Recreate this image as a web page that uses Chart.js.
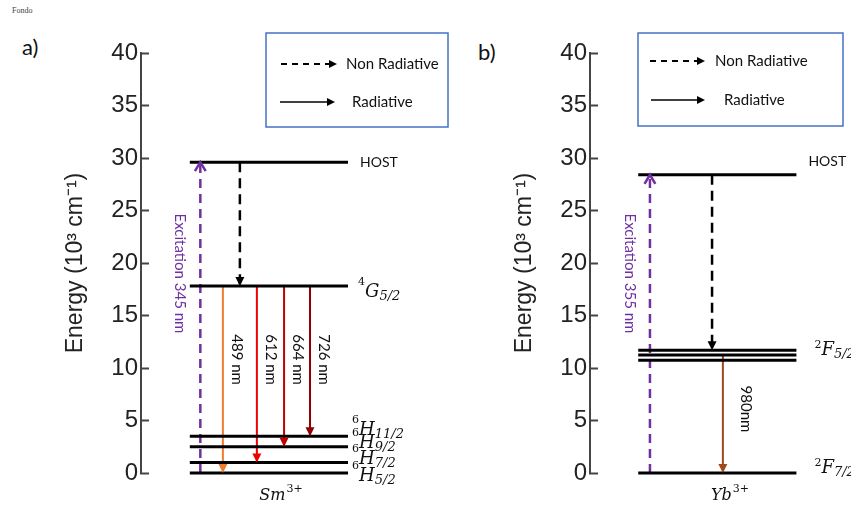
<!DOCTYPE html>
<html>
<head>
<meta charset="utf-8">
<script src="https://cdn.jsdelivr.net/npm/chart.js@4.4.1/dist/chart.umd.min.js"></script>
<style>
  body { margin: 0; width: 851px; height: 506px; overflow: hidden; background: #fff; position: relative; }
  #fondo { position: absolute; left: 12px; top: 6px; font: 8px "Liberation Serif", serif; color: #444; }
  .tag { position: absolute; font: 22px Lato, sans-serif; line-height: 22px; color: #111; }
  .panel { position: absolute; top: 0; width: 450px; height: 506px; }
</style>
</head>
<body>
<div id="fondo">Fondo</div>
<div class="tag" style="left:22px; top:36px">a)</div>
<div class="tag" style="left:478px; top:41px">b)</div>
<div class="panel" style="left:0"><canvas id="smChart" width="450" height="506"></canvas></div>
<div class="panel" style="left:449px"><canvas id="ybChart" width="450" height="506"></canvas></div>
<script>
// energy levels in 10^3 cm^-1
const smLevelEnergy = [29.6, 17.8, 3.5, 2.5, 1.0, 0];
const smLevelName = [['', 'HOST', ''], ['4', 'G', '5/2'], ['6', 'H', '11/2'], ['6', 'H', '9/2'], ['6', 'H', '7/2'], ['6', 'H', '5/2']];
const smExcitationNm = 345;
const smEmissionNm = [489, 612, 664, 726];
const smEmissionTo = [0, 1.0, 2.5, 3.5];

const ybLevelEnergy = [28.4, 11.7, 11.25, 10.75, 0];
const ybLevelName = [['', 'HOST', ''], ['2', 'F', '5/2'], null, null, ['2', 'F', '7/2']];
const ybExcitationNm = 355;
const ybEmissionNm = [980];
const ybEmissionTo = [0];

const energyTicks = [0, 5, 10, 15, 20, 25, 30, 35, 40];

// horizontal placement is in x-axis units (0..10), the x axis itself is hidden
const smPanel = {
  id: 'smChart', ion: ['Sm', '3+'],
  energy: smLevelEnergy, names: smLevelName, excitationNm: smExcitationNm,
  emissionNm: smEmissionNm, emissionTo: smEmissionTo, transferTo: 1, emitFrom: 1,
  levelX: [1.58, 6.7], excitationX: 1.92, transferX: 3.2,
  emissionX: [2.65, 3.75, 4.63, 5.47],
  emissionColor: ['#ed7d31', '#f00000', '#c00000', '#900000'],
  nmSep: ' ', nmLabelDx: 14, nmLabelAt: 10.8, excLabelAt: 19,
  nameGap: [12, 10, 4, 4, 4, 4], nameShift: [0, 5, -7, -5, -5, 2], supRaise: 12,
  ionX: 4.53,
  legend: { box: [266, 33, 182, 94], dashed: [281, 337, 64], solid: [280, 335, 102], textX: [346, 352] }
};

const ybPanel = {
  id: 'ybChart', ion: ['Yb', '3+'],
  energy: ybLevelEnergy, names: ybLevelName, excitationNm: ybExcitationNm,
  emissionNm: ybEmissionNm, emissionTo: ybEmissionTo, transferTo: 1, emitFrom: 2,
  levelX: [1.56, 6.68], excitationX: 1.94, transferX: 3.95,
  emissionX: [4.3],
  emissionColor: ['#9e4a1c'],
  nmSep: '', nmLabelDx: 23, nmLabelAt: 6.1, excLabelAt: 19,
  nameGap: [12, 18, 0, 0, 18], nameShift: [-13, -1, 0, 0, -6], supRaise: 7,
  ionX: 4.53,
  legend: { box: [189, 33, 205, 93], dashed: [201, 256, 61], solid: [202, 256, 100], textX: [266, 275] }
};

const termFont = '"DejaVu Serif", serif';

function line(pts, color, width, dash, head) {
  return {
    data: pts, showLine: true, borderColor: color, borderWidth: width,
    borderDash: dash || [], pointRadius: 0, fill: false, clip: false, head: head
  };
}

function buildDatasets(p) {
  const ds = [];
  const top = p.energy[0];
  const ground = p.energy[p.energy.length - 1];
  p.energy.forEach(e => {
    ds.push(line([{ x: p.levelX[0], y: e }, { x: p.levelX[1], y: e }], '#000', 3));
  });
  // excitation from the ground level up to the host
  ds.push(line([{ x: p.excitationX, y: ground }, { x: p.excitationX, y: top }], '#7030a0', 2.5, [9, 6], 'open'));
  // non radiative transfer host -> emitting level
  ds.push(line([{ x: p.transferX, y: top }, { x: p.transferX, y: p.energy[p.transferTo] }], '#000', 2.5, [10, 6], 'fill'));
  // radiative emissions
  p.emissionNm.forEach((nm, i) => {
    ds.push(line([{ x: p.emissionX[i], y: p.energy[p.emitFrom] }, { x: p.emissionX[i], y: p.emissionTo[i] }],
      p.emissionColor[i], 2, null, 'fill'));
  });
  return ds;
}

function drawHead(ctx, from, to, style, color, size) {
  const ang = Math.atan2(to.y - from.y, to.x - from.x);
  ctx.save();
  ctx.translate(to.x, to.y);
  ctx.rotate(ang);
  ctx.beginPath();
  if (style === 'open') {
    ctx.moveTo(-size, -size * 0.6);
    ctx.lineTo(0, 0);
    ctx.lineTo(-size, size * 0.6);
    ctx.strokeStyle = color;
    ctx.lineWidth = 2.5;
    ctx.stroke();
  } else {
    ctx.moveTo(0, 0);
    ctx.lineTo(-size, -size * 0.5);
    ctx.lineTo(-size, size * 0.5);
    ctx.closePath();
    ctx.fillStyle = color;
    ctx.fill();
  }
  ctx.restore();
}

const arrowHeads = {
  id: 'arrowHeads',
  afterDatasetsDraw(chart) {
    chart.data.datasets.forEach((d, i) => {
      if (!d.head) return;
      const pts = chart.getDatasetMeta(i).data;
      drawHead(chart.ctx, pts[0], pts[1], d.head, d.borderColor, 9);
    });
  }
};

function drawRotated(ctx, text, x, y, font, color) {
  ctx.save();
  ctx.translate(x, y);
  ctx.rotate(Math.PI / 2);
  ctx.font = font;
  ctx.fillStyle = color;
  ctx.textAlign = 'center';
  ctx.textBaseline = 'middle';
  ctx.fillText(text, 0, 0);
  ctx.restore();
}

// spectroscopic term like ⁴G₅/₂, or plain text when there are no indices
function drawTerm(ctx, x, yMid, term, supRaise) {
  const [sup, letter, sub] = term;
  ctx.fillStyle = '#111';
  ctx.textAlign = 'left';
  if (!sup && !sub) {
    ctx.font = '14px Lato';
    ctx.textBaseline = 'middle';
    ctx.fillText(letter, x, yMid);
    return;
  }
  ctx.textBaseline = 'alphabetic';
  const base = yMid + 6;
  ctx.font = '11px ' + termFont;
  ctx.fillText(sup, x, base - supRaise);
  let w = ctx.measureText(sup).width;
  ctx.font = 'italic 18px ' + termFont;
  ctx.fillText(letter, x + w, base);
  w += ctx.measureText(letter).width;
  ctx.font = 'italic 13px ' + termFont;
  ctx.fillText(sub, x + w, base + 3);
}

function drawLegend(ctx, lg) {
  const [bx, by, bw, bh] = lg.box;
  ctx.save();
  ctx.strokeStyle = '#4472c4';
  ctx.lineWidth = 1.5;
  ctx.strokeRect(bx, by, bw, bh);
  ctx.strokeStyle = '#000';
  ctx.lineWidth = 2;
  ctx.setLineDash([6, 5]);
  ctx.beginPath();
  ctx.moveTo(lg.dashed[0], lg.dashed[2]);
  ctx.lineTo(lg.dashed[1] - 4, lg.dashed[2]);
  ctx.stroke();
  ctx.setLineDash([]);
  ctx.lineWidth = 1.6;
  ctx.beginPath();
  ctx.moveTo(lg.solid[0], lg.solid[2]);
  ctx.lineTo(lg.solid[1] - 4, lg.solid[2]);
  ctx.stroke();
  drawHead(ctx, { x: 0, y: lg.dashed[2] }, { x: lg.dashed[1], y: lg.dashed[2] }, 'fill', '#000', 8);
  drawHead(ctx, { x: 0, y: lg.solid[2] }, { x: lg.solid[1], y: lg.solid[2] }, 'fill', '#000', 8);
  ctx.fillStyle = '#111';
  ctx.font = '15px Lato';
  ctx.textAlign = 'left';
  ctx.textBaseline = 'middle';
  ctx.fillText('Non Radiative', lg.textX[0], lg.dashed[2]);
  ctx.fillText('Radiative', lg.textX[1], lg.solid[2]);
  ctx.restore();
}

function labelsFor(p) {
  return {
    id: 'energyLabels',
    afterDraw(chart) {
      const ctx = chart.ctx;
      const xs = chart.scales.x, ys = chart.scales.y;
      ctx.save();
      // level names at the right end of each level
      p.names.forEach((term, i) => {
        if (!term) return;
        const x = xs.getPixelForValue(p.levelX[1]) + p.nameGap[i];
        const y = ys.getPixelForValue(p.energy[i]) + p.nameShift[i];
        drawTerm(ctx, x, y, term, p.supRaise);
      });
      drawRotated(ctx, 'Excitation ' + p.excitationNm + ' nm',
        xs.getPixelForValue(p.excitationX) - 20, ys.getPixelForValue(p.excLabelAt), '15px Lato', '#7030a0');
      p.emissionNm.forEach((nm, i) => {
        drawRotated(ctx, nm + p.nmSep + 'nm',
          xs.getPixelForValue(p.emissionX[i]) + p.nmLabelDx, ys.getPixelForValue(p.nmLabelAt), '15px Lato', '#111');
      });
      // ion name under the ground level
      ctx.fillStyle = '#111';
      ctx.textBaseline = 'alphabetic';
      ctx.textAlign = 'left';
      ctx.font = 'italic 16px ' + termFont;
      const w1 = ctx.measureText(p.ion[0]).width;
      ctx.font = '11px ' + termFont;
      const w2 = ctx.measureText(p.ion[1]).width;
      const x0 = xs.getPixelForValue(p.ionX) - (w1 + w2 + 1) / 2;
      const base = ys.getPixelForValue(0) + 27;
      ctx.font = 'italic 16px ' + termFont;
      ctx.fillText(p.ion[0], x0, base);
      ctx.font = '11px ' + termFont;
      ctx.fillText(p.ion[1], x0 + w1 + 1, base - 8);
      drawLegend(ctx, p.legend);
      ctx.restore();
    }
  };
}

function makeChart(p) {
  return new Chart(document.getElementById(p.id), {
    type: 'scatter',
    data: { datasets: buildDatasets(p) },
    options: {
      responsive: false,
      animation: false,
      events: [],
      layout: { padding: { left: 62, top: 53, right: 0, bottom: 33 } },
      plugins: { legend: { display: false }, tooltip: { enabled: false } },
      scales: {
        x: { type: 'linear', min: 0, max: 10, display: false },
        y: {
          min: 0, max: 40,
          afterBuildTicks: s => { s.ticks = energyTicks.map(v => ({ value: v })); },
          afterFit: s => { s.width = 79; },
          border: { display: true, color: '#444', width: 2 },
          grid: { drawOnChartArea: false, tickLength: -8, color: '#444', tickColor: '#444', tickWidth: 2 },
          ticks: { padding: 11, color: '#222', font: { family: '"Liberation Sans", Arial', size: 24 } },
          title: {
            display: true, text: 'Energy (10³ cm⁻¹)', color: '#222',
            font: { family: '"Liberation Sans", Arial', size: 23 }, padding: { top: 0, bottom: 4 }
          }
        }
      }
    },
    plugins: [arrowHeads, labelsFor(p)]
  });
}

makeChart(smPanel);
makeChart(ybPanel);
</script>
</body>
</html>
